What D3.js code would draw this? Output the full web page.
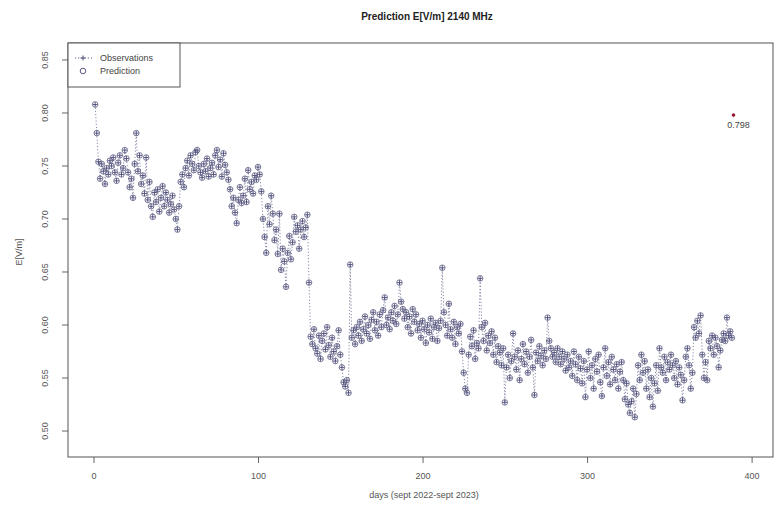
<!DOCTYPE html>
<html>
<head>
<meta charset="utf-8">
<script src="https://cdn.jsdelivr.net/npm/d3@7"></script>
<style>
  body { margin: 0; background: #fff; }
  svg { font-family: "Liberation Sans", Arial, sans-serif; }
  .axis text { font-size: 9px; fill: #555; }
  .axis line { stroke: #666; }
</style>
</head>
<body>
<svg id="chart" width="781" height="510"></svg>
<script>
// daily E field values, day 1 .. 388
var observations = [
  0.808, 0.781, 0.754, 0.738, 0.752, 0.745, 0.733, 0.748, 0.742, 0.755,
  0.750, 0.758, 0.744, 0.736, 0.753, 0.760, 0.742, 0.748, 0.765, 0.757,
  0.744, 0.730, 0.738, 0.720, 0.752, 0.781, 0.745, 0.760, 0.733, 0.741,
  0.724, 0.758, 0.718, 0.735, 0.712, 0.702, 0.725, 0.716, 0.728, 0.707,
  0.720, 0.731, 0.712, 0.725, 0.718, 0.706, 0.714, 0.722, 0.709, 0.700,
  0.690, 0.712, 0.735, 0.742, 0.730, 0.748, 0.755, 0.741, 0.760, 0.752,
  0.746, 0.763, 0.765, 0.750, 0.744, 0.739, 0.752, 0.745, 0.757, 0.740,
  0.748, 0.753, 0.742, 0.760, 0.765, 0.749, 0.756, 0.740, 0.762, 0.751,
  0.744, 0.737, 0.728, 0.712, 0.720, 0.706, 0.696, 0.718, 0.730, 0.715,
  0.722, 0.738, 0.716, 0.746, 0.728, 0.735, 0.724, 0.741, 0.737, 0.749,
  0.742, 0.726, 0.700, 0.683, 0.668, 0.712, 0.695, 0.722, 0.705, 0.680,
  0.690, 0.667, 0.705, 0.652, 0.672, 0.660, 0.636, 0.668, 0.684, 0.662,
  0.678, 0.702, 0.688, 0.694, 0.672, 0.690, 0.698, 0.683, 0.692, 0.704,
  0.640, 0.589, 0.582, 0.596, 0.578, 0.573, 0.590, 0.568, 0.585, 0.592,
  0.577, 0.598, 0.581, 0.570, 0.588, 0.575, 0.566, 0.580, 0.595, 0.572,
  0.560, 0.546, 0.542, 0.548, 0.536, 0.657, 0.588, 0.595, 0.582, 0.598,
  0.590, 0.603, 0.585, 0.596, 0.608, 0.592, 0.600, 0.587, 0.605, 0.612,
  0.595, 0.603, 0.590, 0.610, 0.598, 0.614, 0.626, 0.600, 0.607, 0.596,
  0.612, 0.604, 0.618, 0.601, 0.610, 0.640, 0.622, 0.615, 0.606, 0.612,
  0.598, 0.608, 0.592, 0.615, 0.603, 0.610, 0.595, 0.601, 0.588, 0.604,
  0.596, 0.583, 0.600, 0.593, 0.606, 0.587, 0.598, 0.602, 0.585, 0.597,
  0.604, 0.654, 0.612, 0.600, 0.590, 0.620, 0.596, 0.588, 0.603, 0.582,
  0.598, 0.592, 0.601, 0.575, 0.555, 0.540, 0.536, 0.572, 0.589, 0.580,
  0.595, 0.568, 0.583, 0.578, 0.644, 0.598, 0.585, 0.602, 0.576, 0.590,
  0.583, 0.594, 0.572, 0.588, 0.565, 0.580, 0.574, 0.562, 0.578, 0.527,
  0.560, 0.572, 0.550, 0.566, 0.592, 0.570, 0.558, 0.576, 0.548, 0.568,
  0.582, 0.563, 0.575, 0.555, 0.570, 0.586, 0.560, 0.534, 0.574, 0.566,
  0.580, 0.571, 0.562, 0.576, 0.568, 0.607, 0.585, 0.578, 0.570, 0.574,
  0.565, 0.578, 0.570, 0.563, 0.575, 0.568, 0.557, 0.572, 0.560, 0.566,
  0.552, 0.575, 0.563, 0.548, 0.570, 0.559, 0.545, 0.566, 0.532, 0.558,
  0.575, 0.550, 0.562, 0.540, 0.568, 0.556, 0.572, 0.546, 0.533, 0.560,
  0.578, 0.552, 0.565, 0.544, 0.570, 0.558, 0.548, 0.563, 0.540, 0.556,
  0.565, 0.548, 0.530, 0.545, 0.525, 0.517, 0.528, 0.540, 0.513, 0.535,
  0.562, 0.548, 0.572, 0.555, 0.566, 0.540, 0.558, 0.532, 0.550, 0.523,
  0.545, 0.562, 0.538, 0.578, 0.560, 0.555, 0.570, 0.548, 0.565, 0.558,
  0.572, 0.562, 0.550, 0.566, 0.544, 0.560, 0.553, 0.529, 0.548, 0.570,
  0.578, 0.562, 0.540, 0.555, 0.598, 0.588, 0.604, 0.592, 0.609, 0.572,
  0.550, 0.565, 0.548, 0.585, 0.578, 0.590, 0.572, 0.588, 0.580, 0.560,
  0.576, 0.586, 0.592, 0.585, 0.607, 0.590, 0.594, 0.588
];
var nextDay = 389;
var nextValue = 0.798;
var xTicks = [0, 100, 200, 300, 400];
var yTicks = [0.50, 0.55, 0.60, 0.65, 0.70, 0.75, 0.80, 0.85];

var svg = d3.select('#chart');
var box = { left: 68, right: 773, top: 43, bottom: 457 };
var ink = '#4b4b78';

var x = d3.scaleLinear().domain([-15.5, 413]).range([box.left, box.right]);
var y = d3.scaleLinear().domain([0.4755, 0.866]).range([box.bottom, box.top]);

var points = observations.map(function (v, i) { return { day: i + 1, value: v }; });

svg.append('text')
    .attr('x', 427).attr('y', 20)
    .attr('text-anchor', 'middle')
    .style('font-size', '10px').style('font-weight', 'bold').style('fill', '#222')
    .text('Prediction E[V/m] 2140 MHz');

var xAxis = svg.append('g')
    .attr('class', 'axis')
    .attr('transform', 'translate(0,' + box.bottom + ')')
    .call(d3.axisBottom(x).tickValues(xTicks).tickSize(6).tickPadding(10).tickSizeOuter(0));
xAxis.select('.domain').remove();

var yAxis = svg.append('g')
    .attr('class', 'axis')
    .attr('transform', 'translate(' + box.left + ',0)')
    .call(d3.axisLeft(y).tickValues(yTicks).tickSize(6).tickSizeOuter(0)
        .tickFormat(function (d) { return d.toFixed(2); }));
yAxis.select('.domain').remove();
yAxis.selectAll('text')
    .attr('transform', function (d) { return 'translate(' + (-20) + ',' + y(d) + ') rotate(-90)'; })
    .attr('x', 0).attr('y', 0).attr('dy', 0)
    .attr('text-anchor', 'middle');
yAxis.selectAll('.tick').attr('transform', null);
yAxis.selectAll('.tick line')
    .attr('y1', function (d) { return y(d); }).attr('y2', function (d) { return y(d); });

svg.append('text')
    .attr('transform', 'translate(22,252) rotate(-90)')
    .attr('text-anchor', 'middle')
    .style('font-size', '9px').style('fill', '#555')
    .text('E[V/m]');

svg.append('text')
    .attr('x', 424).attr('y', 498)
    .attr('text-anchor', 'middle')
    .style('font-size', '9px').style('fill', '#555')
    .text('days (sept 2022-sept 2023)');

svg.append('rect')
    .attr('x', box.left).attr('y', box.top)
    .attr('width', box.right - box.left).attr('height', box.bottom - box.top)
    .attr('fill', 'none').attr('stroke', '#555').attr('stroke-width', 1);

var line = d3.line()
    .x(function (d) { return x(d.day); })
    .y(function (d) { return y(d.value); });

svg.append('path')
    .datum(points)
    .attr('d', line)
    .attr('fill', 'none')
    .attr('stroke', '#6a6a92')
    .attr('stroke-width', 0.8)
    .attr('stroke-dasharray', '1.2,2');

svg.append('g').selectAll('path.obs')
    .data(points)
    .enter().append('path')
    .attr('class', 'obs')
    .attr('d', function (d) {
        var cx = x(d.day), cy = y(d.value);
        return 'M' + (cx - 2.5) + ',' + cy + 'H' + (cx + 2.5) + 'M' + cx + ',' + (cy - 2.5) + 'V' + (cy + 2.5);
    })
    .attr('stroke', ink).attr('stroke-width', 0.9);

svg.append('g').selectAll('circle.pred')
    .data(points)
    .enter().append('circle')
    .attr('class', 'pred')
    .attr('cx', function (d) { return x(d.day); })
    .attr('cy', function (d) { return y(d.value); })
    .attr('r', 2.8)
    .attr('fill', 'none')
    .attr('stroke', '#5a5a82').attr('stroke-width', 0.8);

svg.append('circle')
    .attr('cx', x(nextDay)).attr('cy', y(nextValue))
    .attr('r', 1.8).attr('fill', '#9b1b30');

svg.append('text')
    .attr('x', x(nextDay) + 5).attr('y', y(nextValue) + 13)
    .attr('text-anchor', 'middle')
    .style('font-size', '9px').style('fill', '#444')
    .text(nextValue.toFixed(3));

// legend
var legend = svg.append('g');
legend.append('rect')
    .attr('x', box.left).attr('y', box.top)
    .attr('width', 112).attr('height', 44)
    .attr('fill', '#fff').attr('stroke', '#555');
legend.append('line')
    .attr('x1', 75).attr('x2', 92).attr('y1', 58).attr('y2', 58)
    .attr('stroke', '#6a6a92').attr('stroke-dasharray', '1.2,2');
legend.append('path')
    .attr('d', 'M80.5,58H85.5M83,55.5V60.5')
    .attr('stroke', ink);
legend.append('circle')
    .attr('cx', 83).attr('cy', 71).attr('r', 2.8)
    .attr('fill', 'none').attr('stroke', '#5a5a82');
legend.append('text').attr('x', 100).attr('y', 61)
    .style('font-size', '9px').style('fill', '#444').text('Observations');
legend.append('text').attr('x', 100).attr('y', 74)
    .style('font-size', '9px').style('fill', '#444').text('Prediction');
</script>
</body>
</html>
